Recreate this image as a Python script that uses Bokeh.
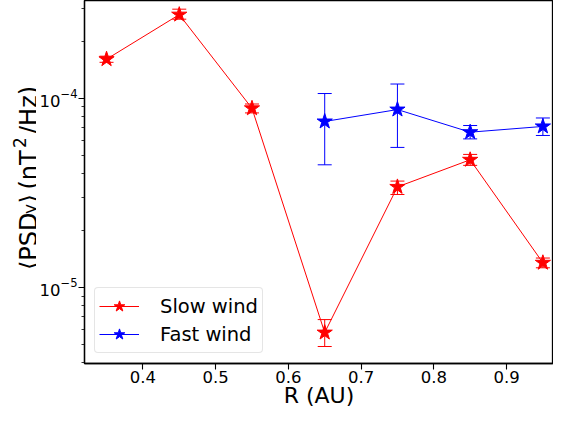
import math
from bokeh.plotting import figure
from bokeh.layouts import row
from bokeh.models import (Range1d, ColumnDataSource, Whisker, TeeHead, Label,
                          Legend, LegendItem, FixedTicker)
from bokeh.embed import file_html
from bokeh.resources import INLINE

# ---- data ----
R_slow = [0.35, 0.45, 0.55, 0.65, 0.75, 0.85, 0.95]
psd_slow = [1.61e-4, 2.77e-4, 8.85e-5, 5.77e-6, 3.40e-5, 4.73e-5, 1.35e-5]
slow_lo = [1.55e-4, 2.62e-4, 8.37e-5, 4.87e-6, 3.10e-5, 4.42e-5, 1.27e-5]
slow_hi = [1.67e-4, 2.96e-4, 9.33e-5, 6.76e-6, 3.65e-5, 5.05e-5, 1.43e-5]

R_fast = [0.65, 0.75, 0.85, 0.95]
psd_fast = [7.54e-5, 8.72e-5, 6.62e-5, 7.10e-5]
fast_lo = [4.45e-5, 5.50e-5, 6.10e-5, 6.36e-5]
fast_hi = [1.06e-4, 1.19e-4, 7.18e-5, 7.87e-5]

x_ticks = [0.4, 0.5, 0.6, 0.7, 0.8, 0.9]
y_ticks = [1e-5, 1e-4]
y_minor = [4e-6, 5e-6, 6e-6, 7e-6, 8e-6, 9e-6,
           2e-5, 3e-5, 4e-5, 5e-5, 6e-5, 7e-5, 8e-5, 9e-5,
           2e-4, 3e-4]
series_names = ["Slow wind", "Fast wind"]
x_label = "R (AU)"
# y label pieces: <PSD_y> (nT^2/Hz)
y_label_parts = ["\u27e8PSD", "y", "\u27e9", "(nT", "2", "/Hz)"]

FONT = "DejaVu Sans"
LW = 36        # width of the y-label strip
H = 410
BB = 46        # bottom border shared by the plot and the label strip

p = figure(width=553 - LW, height=H, y_axis_type="log",
           x_range=Range1d(0.3197, 0.9646), y_range=Range1d(3.96e-6, 3.29e-4),
           output_backend="svg", toolbar_location=None,
           min_border_left=87 - 8 - LW, min_border_right=0, min_border_top=0,
           min_border_bottom=BB)
p.xgrid.visible = False
p.ygrid.visible = False
p.outline_line_color = "black"
p.outline_line_width = 1.3
p.background_fill_color = "white"
p.border_fill_color = "white"

for ax in (p.xaxis[0], p.yaxis[0]):
    ax.axis_line_width = 1.3
    ax.axis_line_color = "black"
    ax.major_tick_out = 6
    ax.major_tick_in = 0
    ax.minor_tick_out = 3
    ax.minor_tick_in = 0
    ax.major_tick_line_width = 1.1
    ax.minor_tick_line_width = 0.8
    ax.major_label_text_font = FONT
    ax.major_label_text_font_size = "16.5px"
    ax.major_label_text_color = "black"

p.xaxis.ticker = FixedTicker(ticks=x_ticks, minor_ticks=[])
p.xaxis.major_label_standoff = 1
p.xaxis.axis_label = x_label
p.xaxis.axis_label_text_font = FONT
p.xaxis.axis_label_text_font_size = "22px"
p.xaxis.axis_label_text_font_style = "normal"
p.xaxis.axis_label_text_color = "black"
p.xaxis.axis_label_standoff = -3
p.yaxis.ticker = FixedTicker(ticks=y_ticks, minor_ticks=y_minor)
p.yaxis.major_label_standoff = 1

def series(xs, ys, lo, hi, color):
    src = ColumnDataSource(dict(x=xs, y=ys, lo=lo, hi=hi))
    w = Whisker(source=src, base="x", lower="lo", upper="hi", dimension="height",
                line_color=color, line_width=1,
                upper_head=TeeHead(size=14, line_color=color, line_width=1),
                lower_head=TeeHead(size=14, line_color=color, line_width=1))
    p.add_layout(w)
    ln = p.line("x", "y", source=src, line_color=color, line_width=1)
    st = p.scatter("x", "y", source=src, marker="star", size=16,
                   fill_color=color, line_color=color, line_width=1)
    return ln, st

ls, ss = series(R_slow, psd_slow, slow_lo, slow_hi, "#ff0000")
lf, sf = series(R_fast, psd_fast, fast_lo, fast_hi, "#0000ff")

legend = Legend(items=[LegendItem(label=series_names[0], renderers=[ls, ss]),
                       LegendItem(label=series_names[1], renderers=[lf, sf])],
                location="bottom_left", margin=10, padding=4, spacing=0,
                glyph_width=40, glyph_height=28, label_standoff=21,
                label_text_font=FONT, label_text_font_size="19.5px",
                label_text_color="black",
                border_line_color="#cccccc", border_line_width=1,
                background_fill_alpha=0.8, border_radius=4)
p.add_layout(legend)

# ---- strip on the left with the rotated y-axis label ----
yl = figure(width=LW, height=H, output_backend="svg", toolbar_location=None,
            x_axis_location=None, y_axis_location=None,
            min_border_left=0, min_border_right=0, min_border_top=0,
            min_border_bottom=BB)
yl.xgrid.visible = False
yl.ygrid.visible = False
yl.outline_line_color = None
yl.border_fill_color = "white"
yl.background_fill_color = "white"

A = math.pi / 2
# (x from strip left, y up from frame bottom, font size) of each part
placement = [(28, 93.5, "24px"), (29, 149.5, "17px"), (28, 160, "24px"),
             (28, 174, "24px"), (19, 215.5, "17px"), (28, 229.5, "24px")]
for text, (x, y, size) in zip(y_label_parts, placement):
    yl.add_layout(Label(x=x, y=y, x_units="screen", y_units="screen", text=text,
                        angle=A, text_font=FONT, text_font_size=size,
                        text_align="left", text_baseline="alphabetic",
                        text_color="black"))

layout = row(yl, p)
open("out.html", "w").write(file_html(layout, INLINE))
